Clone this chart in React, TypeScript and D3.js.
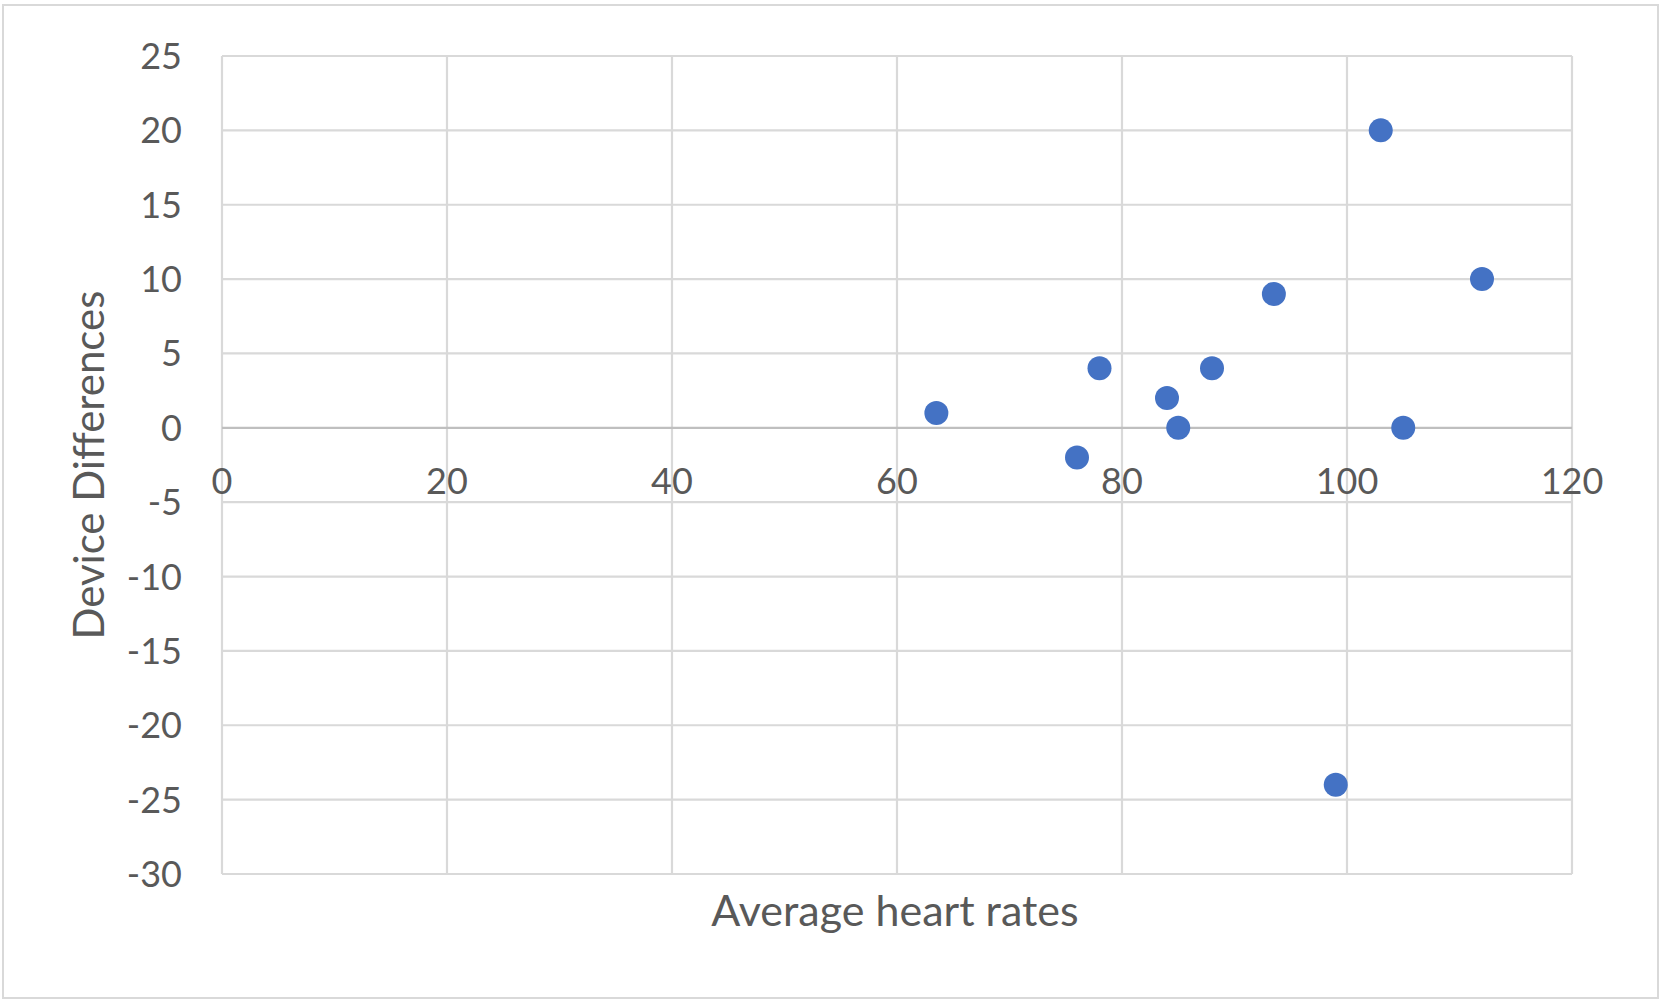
import React, { useEffect, useRef } from 'react';
import * as d3 from 'd3';

// average heart rate (x) vs device difference (y)
const avgHeartRates = [63.5, 76, 78, 84, 85, 88, 93.5, 99, 103, 105, 112];
const deviceDiffs = [1, -2, 4, 2, 0, 4, 9, -24, 20, 0, 10];

const xTicks = [0, 20, 40, 60, 80, 100, 120];
const yTicks = [25, 20, 15, 10, 5, 0, -5, -10, -15, -20, -25, -30];

const xTitle = 'Average heart rates';
const yTitle = 'Device Differences';

const W = 1663;
const H = 1003;

const App: React.FC = () => {
  const svgRef = useRef<SVGSVGElement>(null);

  useEffect(() => {
    if (!svgRef.current) return;
    const root = d3.select(svgRef.current);
    root.selectAll('*').remove();

    const font = 'Lato, "Open Sans", sans-serif';
    const textColor = '#595959';
    const gridColor = '#d9d9d9';
    const axisColor = '#bfbfbf';

    // plot area
    const left = 222;
    const right = 1572;
    const top = 56;
    const bottom = 874;

    const x = d3.scaleLinear().domain([0, 120]).range([left, right]);
    const y = d3.scaleLinear().domain([-30, 25]).range([bottom, top]);

    // outer chart border
    root.append('rect')
      .attr('x', 3)
      .attr('y', 5)
      .attr('width', W - 8)
      .attr('height', H - 10)
      .attr('fill', 'white')
      .attr('stroke', gridColor)
      .attr('stroke-width', 2);

    // horizontal gridlines
    root.append('g')
      .selectAll('line')
      .data(yTicks.filter(t => t !== 0))
      .join('line')
      .attr('x1', left)
      .attr('x2', right)
      .attr('y1', d => y(d))
      .attr('y2', d => y(d))
      .attr('stroke', gridColor)
      .attr('stroke-width', 2.2);

    // vertical gridlines
    root.append('g')
      .selectAll('line')
      .data(xTicks.filter(t => t !== 0))
      .join('line')
      .attr('x1', d => x(d))
      .attr('x2', d => x(d))
      .attr('y1', top)
      .attr('y2', bottom)
      .attr('stroke', gridColor)
      .attr('stroke-width', 2.2);

    // axis lines (crossing at 0)
    root.append('line')
      .attr('x1', x(0)).attr('x2', x(0))
      .attr('y1', top).attr('y2', bottom)
      .attr('stroke', gridColor)
      .attr('stroke-width', 2.2);
    root.append('line')
      .attr('x1', left).attr('x2', right)
      .attr('y1', y(0)).attr('y2', y(0))
      .attr('stroke', axisColor)
      .attr('stroke-width', 2.2);

    // y tick labels
    root.append('g')
      .selectAll('text')
      .data(yTicks)
      .join('text')
      .attr('x', 182)
      .attr('y', d => y(d))
      .attr('dy', '0.36em')
      .attr('text-anchor', 'end')
      .attr('font-family', font)
      .attr('font-size', 36)
      .attr('fill', textColor)
      .text(d => String(d));

    // x tick labels, hanging below the zero line
    root.append('g')
      .selectAll('text')
      .data(xTicks)
      .join('text')
      .attr('x', d => x(d))
      .attr('y', y(0) + 66)
      .attr('text-anchor', 'middle')
      .attr('font-family', font)
      .attr('font-size', 36)
      .attr('fill', textColor)
      .text(d => String(d));

    // points
    const pts = avgHeartRates.map((v, i) => ({ hr: v, diff: deviceDiffs[i] }));
    root.append('g')
      .selectAll('circle')
      .data(pts)
      .join('circle')
      .attr('cx', d => x(d.hr))
      .attr('cy', d => y(d.diff))
      .attr('r', 12)
      .attr('fill', '#4472c4');

    // axis titles
    root.append('text')
      .attr('x', (left + right) / 2 - 2)
      .attr('y', 926)
      .attr('text-anchor', 'middle')
      .attr('font-family', font)
      .attr('font-size', 43)
      .attr('fill', textColor)
      .text(xTitle);

    root.append('text')
      .attr('transform', `translate(104,${(top + bottom) / 2}) rotate(-90)`)
      .attr('text-anchor', 'middle')
      .attr('font-family', font)
      .attr('font-size', 42)
      .attr('fill', textColor)
      .text(yTitle);
  }, []);

  return (
    <svg
      ref={svgRef}
      width={W}
      height={H}
      style={{ position: 'absolute', left: 0, top: 0, background: 'white' }}
    />
  );
};

export default App;
